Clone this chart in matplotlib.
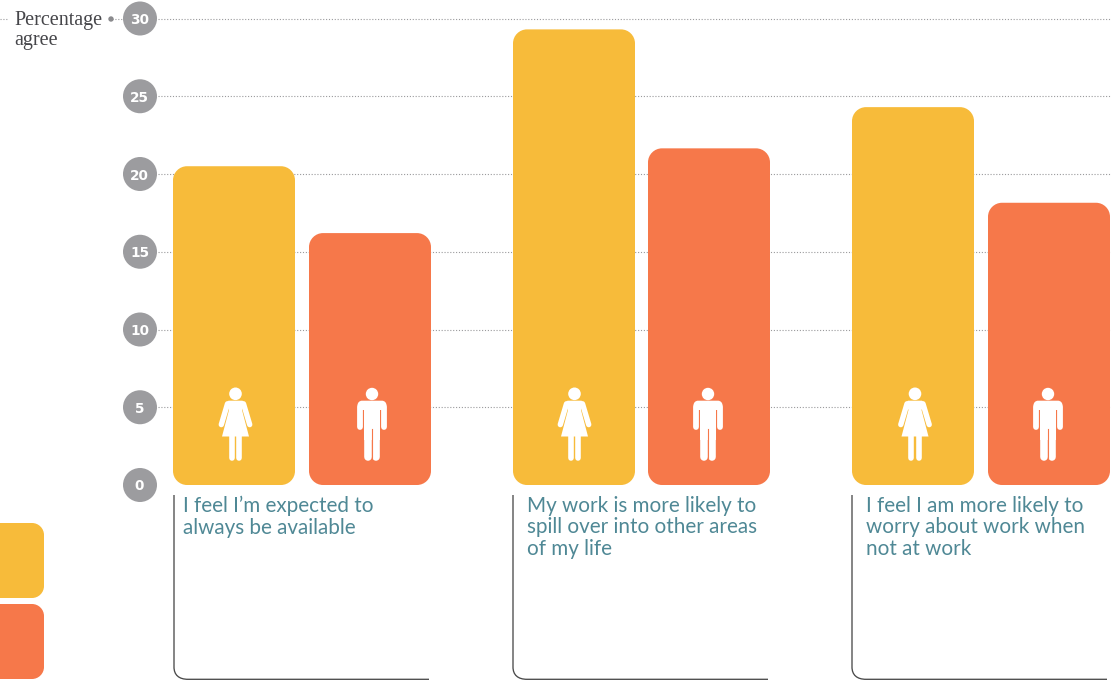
import matplotlib
matplotlib.use("Agg")
import matplotlib.pyplot as plt
from matplotlib.path import Path
from matplotlib.patches import PathPatch, Circle, Polygon, Rectangle
from matplotlib.lines import Line2D
from matplotlib.transforms import Affine2D

# ---- data ----
categories = ["I feel I\u2019m expected to\nalways be available",
              "My work is more likely to\nspill over into other areas\nof my life",
              "I feel I am more likely to\nworry about work when\nnot at work"]
women = [20.5, 29.3, 24.3]
men = [16.2, 21.65, 18.15]
y_ticks = [0, 5, 10, 15, 20, 25, 30]
axis_title = "Percentage\nagree"

# ---- layout (pixels) ----
W, H = 1120, 685
Y0, PX_PER_UNIT = 485.0, 15.55
YELLOW, ORANGE, TEAL, GREY = "#F7BB3A", "#F6784A", "#4F8895", "#9C9C9F"
GRID = "#9A9A9C"
BAR_W = 122
women_x = [173, 513, 852]
men_x = [309, 648, 988]
woman_icon_x = [235.5, 574.5, 915]
man_icon_x = [372, 708, 1048]
bracket_x = [(174, 429), (513, 768), (852, 1107)]
label_x = [183, 527, 866]

fig = plt.figure(figsize=(W / 100, H / 100), dpi=100, facecolor="white")
ax = fig.add_axes([0, 0, 1, 1])
ax.set_xlim(0, W)
ax.set_ylim((Y0 - H) / PX_PER_UNIT, Y0 / PX_PER_UNIT)
ax.axis("off")
px = Affine2D().scale(1, -1).translate(0, H)  # pixel coordinates, y down


def rounded_path(x0, x1, y0, y1, rx, ry):
    k = 0.45
    v = [(x0 + rx, y0), (x1 - rx, y0), (x1 - rx * k, y0), (x1, y0 + ry * k), (x1, y0 + ry),
         (x1, y1 - ry), (x1, y1 - ry * k), (x1 - rx * k, y1), (x1 - rx, y1),
         (x0 + rx, y1), (x0 + rx * k, y1), (x0, y1 - ry * k), (x0, y1 - ry),
         (x0, y0 + ry), (x0, y0 + ry * k), (x0 + rx * k, y0), (x0 + rx, y0)]
    c = [Path.MOVETO, Path.LINETO, Path.CURVE4, Path.CURVE4, Path.CURVE4,
         Path.LINETO, Path.CURVE4, Path.CURVE4, Path.CURVE4,
         Path.LINETO, Path.CURVE4, Path.CURVE4, Path.CURVE4,
         Path.LINETO, Path.CURVE4, Path.CURVE4, Path.CURVE4]
    return Path(v, c)


def bar(x, value, color):
    ry = 14 / PX_PER_UNIT
    ax.add_patch(PathPatch(rounded_path(x, x + BAR_W, 0, value, 14, ry),
                           facecolor=color, edgecolor="none", zorder=3))


def white_line(points, width):
    xs, ys = zip(*points)
    ax.add_line(Line2D(xs, ys, color="white", lw=width * 0.72, solid_capstyle="round",
                       transform=px, zorder=5))


def white_poly(points):
    ax.add_patch(Polygon(points, closed=True, facecolor="white", edgecolor="none",
                         transform=px, zorder=5))


def woman(cx):
    ax.add_patch(Circle((cx, 393.8), 6.3, facecolor="white", edgecolor="none", transform=px, zorder=5))
    white_poly([(cx - 7, 400.7), (cx + 7, 400.7), (cx + 9.5, 403), (cx + 6.5, 410), (cx + 13.5, 436.5),
                (cx - 13.5, 436.5), (cx - 6.5, 410), (cx - 9.5, 403)])
    white_line([(cx - 8, 403.8), (cx - 14.2, 424.6)], 5.4)
    white_line([(cx + 8, 403.8), (cx + 14.2, 424.6)], 5.4)
    white_line([(cx - 3.6, 436), (cx - 3.6, 458)], 5.6)
    white_line([(cx + 3.6, 436), (cx + 3.6, 458)], 5.6)


def man(cx):
    ax.add_patch(Circle((cx, 394), 6.2, facecolor="white", edgecolor="none", transform=px, zorder=5))
    ax.add_patch(PathPatch(rounded_path(cx - 14.5, cx + 14.5, 400.7, 410, 4.5, 4.5), facecolor="white",
                           edgecolor="none", transform=px, zorder=5))
    ax.add_patch(Rectangle((cx - 8, 405), 16, 35, facecolor="white", edgecolor="none",
                           transform=px, zorder=5))
    white_line([(cx - 11.6, 407), (cx - 11.6, 427)], 5.8)
    white_line([(cx + 11.6, 407), (cx + 11.6, 427)], 5.8)
    white_line([(cx - 4.1, 438), (cx - 4.1, 456.6)], 7.6)
    white_line([(cx + 4.1, 438), (cx + 4.1, 456.6)], 7.6)
    ax.add_line(Line2D([cx, cx], [429, 461], color=ORANGE, lw=0.8, transform=px, zorder=6))


# grid lines, tick circles
for t in y_ticks:
    if t > 0:
        ax.plot([158, 1111], [t, t], color=GRID, lw=0.8, ls=(0, (1, 1.6)), zorder=1)
    yp = Y0 - t * PX_PER_UNIT
    ax.add_patch(Circle((140, yp), 17, facecolor=GREY, edgecolor="none", transform=px, zorder=4))
    ax.text(139.5, yp, str(t), transform=px, ha="center", va="center_baseline", color="white",
            family="DejaVu Sans", fontweight="bold", fontsize=9.8, zorder=5)

# axis title with its leader
ax.add_line(Line2D([0, 8], [19, 19], color=GRID, lw=0.8, ls=(0, (1, 1.6)), transform=px, zorder=1))
ax.add_line(Line2D([112, 122], [19, 19], color=GRID, lw=0.8, ls=(0, (1, 1.6)), transform=px, zorder=1))
ax.add_patch(Circle((111, 19), 2.7, facecolor="#8A8A8D", edgecolor="none", transform=px, zorder=2))
ax.text(14.5, 11, axis_title, transform=px, ha="left", va="top", color="#46464A",
        family="Liberation Serif", fontsize=14.5, linespacing=1.06)

# bars and icons
for i, cat in enumerate(categories):
    bar(women_x[i], women[i], YELLOW)
    bar(men_x[i], men[i], ORANGE)
    woman(woman_icon_x[i])
    man(man_icon_x[i])
    ax.text(label_x[i], 496, cat, transform=px, ha="left", va="top", color=TEAL,
            family="Lato", fontsize=14.9, linespacing=1.09)
    x0, x1 = bracket_x[i]
    v = [(x0, 495), (x0, 667), (x0, 675), (x0 + 5, 679.3), (x0 + 14, 679.3), (x1, 679.3)]
    c = [Path.MOVETO, Path.LINETO, Path.CURVE4, Path.CURVE4, Path.CURVE4, Path.LINETO]
    ax.add_patch(PathPatch(Path(v, c), facecolor="none", edgecolor="#4A4A4A", lw=0.95,
                           transform=px, zorder=2))

# legend swatches (labels are off the canvas)
for y0, y1, col in [(523, 598, YELLOW), (604, 679, ORANGE)]:
    ax.add_patch(PathPatch(rounded_path(-40, 44, y0, y1, 12, 12), facecolor=col,
                           edgecolor="none", transform=px, zorder=3))

fig.savefig("out.png", dpi=100, facecolor="white")
